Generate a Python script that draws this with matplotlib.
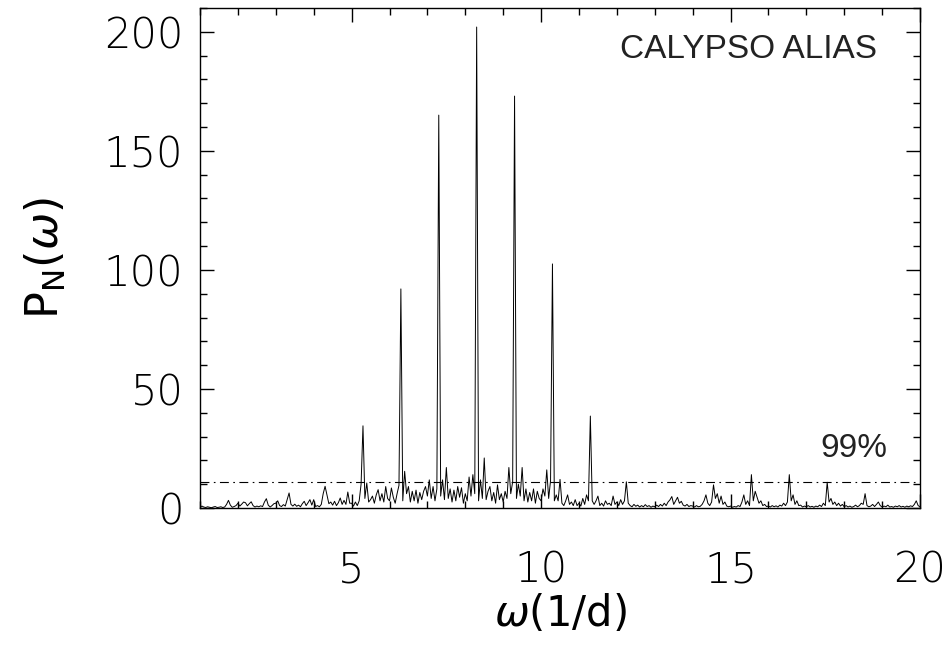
import numpy as np
import matplotlib.pyplot as plt
from matplotlib.ticker import MultipleLocator

# Periodogram values, one row per unit of frequency (step 0.05 1/d)
freq_start = 1.0
freq_step = 0.05
power = [
    0.3, 0.8, 0.4, 0.2, 0.5, 0.3, 0.1, 0.4, 0.6, 0.2, 0.3, 0.5, 0.2, 0.4, 1.5, 3.2, 1.2, 0.3, 0.6, 1.0,  # 1
    2.0, 0.8, 1.6, 2.5, 2.2, 0.9, 1.8, 2.6, 1.0, 0.4, 0.8, 0.5, 0.9, 0.6, 2.5, 3.9, 1.2, 0.4, 1.0, 1.8,  # 2
    2.0, 3.0, 1.0, 0.6, 1.4, 0.8, 3.5, 6.3, 1.5, 0.8, 1.6, 0.7, 1.2, 0.5, 1.8, 2.8, 1.0, 2.2, 3.5, 1.2,  # 3
    3.5, 0.6, 1.0, 0.5, 1.5, 6.0, 9.1, 5.5, 1.8, 2.5, 1.2, 2.8, 1.0, 2.2, 4.2, 1.5, 3.2, 1.5, 6.7, 2.0,  # 4
    2.0, 0.8, 2.5, 1.0, 3.0, 10.0, 34.5, 4.0, 10.5, 2.5, 3.5, 5.0, 2.0, 5.5, 7.7, 3.0, 6.0, 2.5, 9.0, 4.0,  # 5
    3.0, 8.4, 4.5, 2.0, 6.0, 9.5, 92.0, 3.0, 15.4, 6.0, 9.0, 2.5, 7.0, 3.0, 7.5, 2.0, 6.5, 3.5, 7.0, 9.0,  # 6
    5.0, 11.8, 4.0, 9.0, 3.0, 8.0, 165.0, 5.0, 11.8, 3.5, 17.0, 4.0, 8.0, 2.5, 7.5, 3.0, 9.0, 4.5, 8.5, 2.0,  # 7
    6.0, 3.0, 13.0, 5.0, 14.0, 6.0, 202.0, 3.0, 11.8, 4.0, 21.0, 3.5, 7.0, 9.0, 3.0, 6.5, 2.0, 9.7, 3.5, 6.0,  # 8
    2.5, 7.0, 4.0, 17.0, 6.0, 11.0, 173.0, 4.0, 10.0, 5.0, 17.0, 3.0, 8.0, 2.5, 6.5, 3.0, 8.0, 2.0, 7.0, 4.0,  # 9
    3.0, 8.0, 5.0, 16.0, 4.0, 11.5, 102.5, 3.0, 5.5, 3.0, 12.0, 2.0, 1.0, 3.0, 5.5, 1.5, 2.5, 1.0, 3.5, 1.0,  # 10
    2.0, 0.8, 4.0, 1.5, 5.5, 3.0, 38.6, 3.0, 1.5, 3.0, 5.0, 1.0, 2.0, 0.8, 3.0, 1.5, 2.0, 1.0, 5.0, 1.5,  # 11
    2.5, 1.0, 3.5, 1.5, 3.0, 11.0, 2.0, 1.0, 0.5, 1.5, 0.7, 1.2, 0.4, 1.0, 0.5, 1.4, 0.6, 1.0, 0.3, 0.8,  # 12
    0.5, 1.2, 0.6, 1.5, 0.8, 2.0, 1.0, 2.5, 3.4, 4.8, 1.5, 3.0, 4.5, 2.0, 2.8, 1.2, 0.8, 1.5, 0.6, 1.0,  # 13
    0.8, 0.4, 1.0, 0.5, 0.7, 1.5, 3.0, 5.5, 2.0, 1.0, 2.5, 9.7, 4.0, 6.0, 2.0, 5.0, 1.5, 2.5, 0.8, 0.5,  # 14
    0.8, 0.3, 0.6, 0.4, 1.0, 0.6, 2.5, 5.5, 1.5, 3.0, 1.0, 14.0, 3.0, 7.0, 4.5, 2.0, 3.0, 1.0, 1.5, 0.6,  # 15
    0.8, 0.4, 1.0, 0.5, 0.9, 0.4, 1.2, 0.8, 2.0, 1.0, 2.5, 14.0, 3.0, 5.5, 1.5, 3.0, 1.0, 1.2, 0.4, 0.8,  # 16
    0.5, 1.0, 0.4, 0.7, 0.3, 0.8, 0.5, 1.2, 0.6, 2.0, 1.0, 10.8, 2.5, 4.0, 1.5, 2.5, 1.0, 2.0, 0.8, 1.5,  # 17
    0.5, 1.0, 0.4, 0.8, 0.3, 0.6, 1.2, 0.5, 1.0, 2.0, 1.5, 6.0, 1.0, 0.5, 0.8, 1.5, 0.6, 1.5, 2.5, 1.0,  # 18
    0.4, 0.8, 0.5, 1.2, 0.4, 0.6, 0.3, 0.8, 0.5, 1.0, 0.4, 0.7, 0.3, 0.8, 0.5, 0.9, 0.6, 1.5, 3.0, 1.0,  # 19
    0.5,
]
level_99 = 11.0
title_text = "CALYPSO ALIAS"
level_text = "99%"

freq = freq_start + freq_step * np.arange(len(power))

plt.rcParams['mathtext.fontset'] = 'custom'
plt.rcParams['mathtext.rm'] = 'DejaVu Sans'
plt.rcParams['mathtext.it'] = 'DejaVu Sans:italic'

fig = plt.figure(figsize=(9.48, 6.49), dpi=100)
ax = fig.add_axes([0.211, 0.2173, 0.7595, 0.7704])

ax.plot(freq, power, color='black', linewidth=0.7)
ax.axhline(level_99, color='black', linewidth=0.8, linestyle=(0, (8, 4, 1.5, 4)))

ax.set_xlim(1, 20)
ax.set_ylim(0, 210)

# ticks on all four sides, IDL style
ax.xaxis.set_major_locator(MultipleLocator(5))
ax.xaxis.set_minor_locator(MultipleLocator(1))
ax.yaxis.set_major_locator(MultipleLocator(50))
ax.yaxis.set_minor_locator(MultipleLocator(10))
ax.tick_params(which='both', direction='in', top=True, right=True, width=1.0)
ax.tick_params(which='major', length=10, labelsize=30)
ax.tick_params(axis='x', which='major', pad=30)
ax.tick_params(axis='y', which='major', pad=12)
ax.tick_params(which='minor', length=5)
for lbl in ax.get_xticklabels() + ax.get_yticklabels():
    lbl.set_fontweight('light')
for s in ax.spines.values():
    s.set_linewidth(1.0)

ax.set_xlabel(r'$\omega$(1/d)', fontsize=30, labelpad=2)
ax.set_ylabel(r'P$_{\rm N}$($\omega$)', fontsize=32, labelpad=26)

ax.text(18.86, 199, title_text, fontsize=24, ha='right', va='top',
        family=['Liberation Sans Narrow', 'Liberation Sans'], color='#222222')
ax.text(19.13, 21.4, level_text, fontsize=24, ha='right', va='baseline',
        family=['Liberation Sans Narrow', 'Liberation Sans'], color='#222222')

fig.savefig('out.png', dpi=100)
